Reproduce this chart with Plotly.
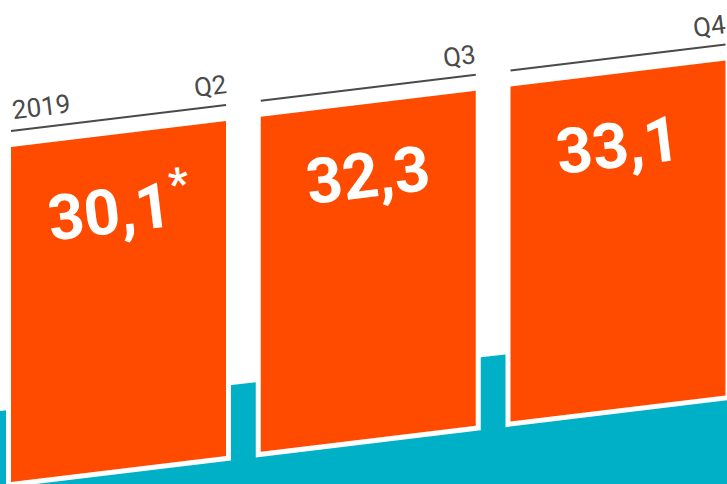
import math
import plotly.graph_objects as go

# ---- data ----
categories = ["Q2", "Q3", "Q4"]
values = [30.1, 32.3, 33.1]
value_labels = ["30,1<sup>*</sup>", "32,3", "33,1"]
year_label = "2019"

# ---- style / geometry parameters ----
ORANGE = "#FF4B00"
TEAL = "#00B0C6"
GREY = "#4a4a4a"
WIDTH, HEIGHT = 727, 484
PX = 249.75                 # pixels per category step
X_MIN = -118.5 / PX
X_MAX = (WIDTH - 118.5) / PX
W = 107.5 / PX              # half bar width
RISE = 0.121                # skew: pixels up per pixel right
SLOPE = RISE * PX
H = 335                     # bar height in px
BASE = 2 + SLOPE * W
GAP = 5                     # white outline
LINE_OFF = 16
LABEL_OFF = 20.5
VALUE_OFF = 72
TEAL_Y0 = 73
TEAL_SLOPE = 0.112 * PX
ANGLE = -math.degrees(math.atan(RISE))


def y_bot(x):
    return BASE + SLOPE * x


def teal_top(x):
    return TEAL_Y0 + TEAL_SLOPE * (x - X_MIN)


fig = go.Figure()

# teal background band
tx = [X_MIN - 0.1, X_MAX + 0.1, X_MAX + 0.1, X_MIN - 0.1]
ty = [teal_top(X_MIN - 0.1), teal_top(X_MAX + 0.1), -50, -50]
fig.add_trace(go.Scatter(x=tx, y=ty, fill="toself", fillcolor=TEAL, mode="lines",
                         line=dict(width=0, color=TEAL), hoverinfo="skip"))

idx = list(range(len(categories)))
for i, cat, val, lab in zip(idx, categories, values, value_labels):
    xl, xr = i - W, i + W
    g = GAP / PX
    # white outline
    wx = [xl - g, xr + g, xr + g, xl - g]
    wy = [y_bot(xl - g) - GAP, y_bot(xr + g) - GAP, y_bot(xr + g) + H + GAP, y_bot(xl - g) + H + GAP]
    fig.add_trace(go.Scatter(x=wx, y=wy, fill="toself", fillcolor="white", mode="lines",
                             line=dict(width=0, color="white"), hoverinfo="skip"))
    # orange skewed bar
    bx = [xl, xr, xr, xl]
    by = [y_bot(xl), y_bot(xr), y_bot(xr) + H, y_bot(xl) + H]
    fig.add_trace(go.Scatter(x=bx, y=by, fill="toself", fillcolor=ORANGE, mode="lines",
                             line=dict(width=0, color=ORANGE), name=cat,
                             hovertemplate=f"{cat}: {val}<extra></extra>"))
    # rule line above bar
    fig.add_trace(go.Scatter(x=[xl, xr], y=[y_bot(xl) + H + LINE_OFF, y_bot(xr) + H + LINE_OFF],
                             mode="lines", line=dict(width=2, color=GREY), hoverinfo="skip"))
    # category label
    cx = xr - 16 / PX
    fig.add_annotation(x=cx, y=y_bot(cx) + H + LINE_OFF + LABEL_OFF, text=cat, showarrow=False,
                       xanchor="center", yanchor="middle", textangle=ANGLE,
                       font=dict(family="Roboto", size=26, color=GREY))
    # value label
    fig.add_annotation(x=i, y=y_bot(i) + H - VALUE_OFF, text=lab, showarrow=False,
                       xanchor="center", yanchor="middle", textangle=ANGLE,
                       font=dict(family="Roboto", size=63, color="white", weight="bold"))

# year label
yx = -W + 29.5 / PX
fig.add_annotation(x=yx, y=y_bot(yx) + H + LINE_OFF + LABEL_OFF, text=year_label, showarrow=False,
                   xanchor="center", yanchor="middle", textangle=ANGLE,
                   font=dict(family="Roboto", size=26, color=GREY))

fig.update_layout(
    width=WIDTH, height=HEIGHT, margin=dict(l=0, r=0, t=0, b=0),
    paper_bgcolor="white", plot_bgcolor="white", showlegend=False,
    xaxis=dict(range=[X_MIN, X_MAX], visible=False, fixedrange=True),
    yaxis=dict(range=[0, HEIGHT], visible=False, fixedrange=True),
)
fig.write_html("out.html", config={"displayModeBar": False})
